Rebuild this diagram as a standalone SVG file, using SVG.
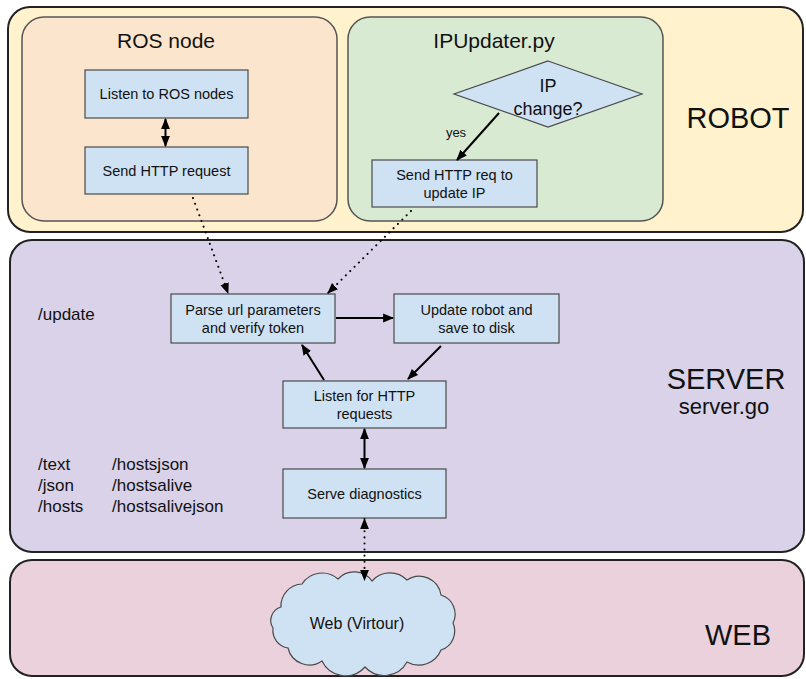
<svg xmlns="http://www.w3.org/2000/svg" width="806" height="679" viewBox="0 0 806 679">
<defs>
<style>
text{font-family:"Liberation Sans",Arial,sans-serif;fill:#111;}
.node rect,.node polygon,.node path{fill:#cfe2f3;stroke:#4a4a4a;stroke-width:1.2;}
.t{font-size:14.5px;text-anchor:middle;}
.big{font-size:29px;text-anchor:middle;}
.route{font-size:17px;}
.conn line,.conn path{stroke:#000;stroke-width:2;fill:none;}
.dot{stroke-dasharray:0.1 6;stroke-linecap:round;stroke-width:2.2;}
</style>
<marker id="ah" viewBox="0 0 10 10" refX="9" refY="5" markerWidth="11" markerHeight="11" orient="auto-start-reverse" markerUnits="userSpaceOnUse">
<path d="M0,1 L10,5 L0,9 z" fill="#000"/>
</marker>
</defs>

<g id="robot">
<rect x="8" y="7" width="795" height="225" rx="22" fill="#fff2cc" stroke="#222" stroke-width="2"/>
<text class="big" x="738" y="128">ROBOT</text>
</g>
<g id="ros-node">
<rect x="22" y="17" width="315" height="204" rx="22" fill="#fce5cd" stroke="#555" stroke-width="1.5"/>
<text x="166" y="48" style="font-size:21px;text-anchor:middle">ROS node</text>
</g>
<g id="ipupdater">
<rect x="348" y="17" width="315" height="204" rx="22" fill="#d9ead3" stroke="#555" stroke-width="1.5"/>
<text x="494" y="48" style="font-size:21px;text-anchor:middle">IPUpdater.py</text>
</g>
<g id="server">
<rect x="10" y="240" width="794" height="312" rx="22" fill="#d9d2e9" stroke="#222" stroke-width="2"/>
<text class="big" x="726" y="389">SERVER</text>
<text x="724" y="414" style="font-size:22px;text-anchor:middle">server.go</text>
<text class="route" x="38" y="320">/update</text>
<text class="route" x="38" y="470">/text</text>
<text class="route" x="38" y="491">/json</text>
<text class="route" x="38" y="512">/hosts</text>
<text class="route" x="112" y="470">/hostsjson</text>
<text class="route" x="112" y="491">/hostsalive</text>
<text class="route" x="112" y="512">/hostsalivejson</text>
</g>
<g id="web">
<rect x="10" y="560" width="794" height="116" rx="22" fill="#ead1dc" stroke="#222" stroke-width="2"/>
<text class="big" x="738" y="645">WEB</text>
</g>

<g id="listen-ros" class="node">
<rect x="85" y="70" width="163" height="48"/>
<text class="t" x="166.5" y="99">Listen to ROS nodes</text>
</g>
<g id="send-http" class="node">
<rect x="85" y="147" width="163" height="47"/>
<text class="t" x="166.5" y="176">Send HTTP request</text>
</g>
<g id="ip-change" class="node">
<polygon points="548,61 642,94 548,127 454,94"/>
<text x="548" y="92" style="font-size:18px;text-anchor:middle">IP</text>
<text x="548" y="115" style="font-size:18px;text-anchor:middle">change?</text>
</g>
<g id="send-update" class="node">
<rect x="372" y="160" width="165" height="47"/>
<text class="t" x="454.5" y="180">Send HTTP req to</text>
<text class="t" x="454.5" y="198">update IP</text>
</g>
<g id="parse" class="node">
<rect x="171" y="294" width="164" height="49"/>
<text class="t" x="253" y="315">Parse url parameters</text>
<text class="t" x="253" y="333">and verify token</text>
</g>
<g id="update-robot" class="node">
<rect x="394" y="294" width="165" height="49"/>
<text class="t" x="476.5" y="315">Update robot and</text>
<text class="t" x="476.5" y="333">save to disk</text>
</g>
<g id="listen-http" class="node">
<rect x="283" y="381" width="163" height="47"/>
<text class="t" x="364.5" y="401">Listen for HTTP</text>
<text class="t" x="364.5" y="419">requests</text>
</g>
<g id="serve-diag" class="node">
<rect x="283" y="469" width="163" height="49"/>
<text class="t" x="364.5" y="499">Serve diagnostics</text>
</g>
<g id="cloud" class="node">
<path d="M281,607 A22,22 0 0 1 302,584 A24,24 0 0 1 338,579 A22,22 0 0 1 372,581 A24,24 0 0 1 407,580 A22,22 0 0 1 441,595 A20,20 0 0 1 453,623 A20,20 0 0 1 441,650 A24,24 0 0 1 407,662 A26,26 0 0 1 365,667 A26,26 0 0 1 322,661 A22,22 0 0 1 288,648 A18,18 0 0 1 273,628 A14,14 0 0 1 281,607 Z"/>
<text x="357" y="629" style="font-size:16px;text-anchor:middle">Web (Virtour)</text>
</g>

<g id="connectors" class="conn">
<line x1="165.5" y1="119" x2="165.5" y2="146" marker-start="url(#ah)" marker-end="url(#ah)"/>
<line x1="499" y1="113" x2="457" y2="160" marker-end="url(#ah)"/>
<text x="456" y="137" style="font-size:13px;text-anchor:middle">yes</text>
<line class="dot" x1="193" y1="198" x2="228" y2="293" marker-end="url(#ah)"/>
<line class="dot" x1="411" y1="211" x2="328" y2="293" marker-end="url(#ah)"/>
<line x1="336" y1="318" x2="393" y2="318" marker-end="url(#ah)"/>
<line x1="324" y1="380" x2="302" y2="345" marker-end="url(#ah)"/>
<line x1="441" y1="346" x2="408" y2="379" marker-end="url(#ah)"/>
<line x1="364.5" y1="429" x2="364.5" y2="468" marker-start="url(#ah)" marker-end="url(#ah)"/>
<line class="dot" x1="364.5" y1="519" x2="364.5" y2="580" marker-start="url(#ah)" marker-end="url(#ah)"/>
</g>
</svg>
